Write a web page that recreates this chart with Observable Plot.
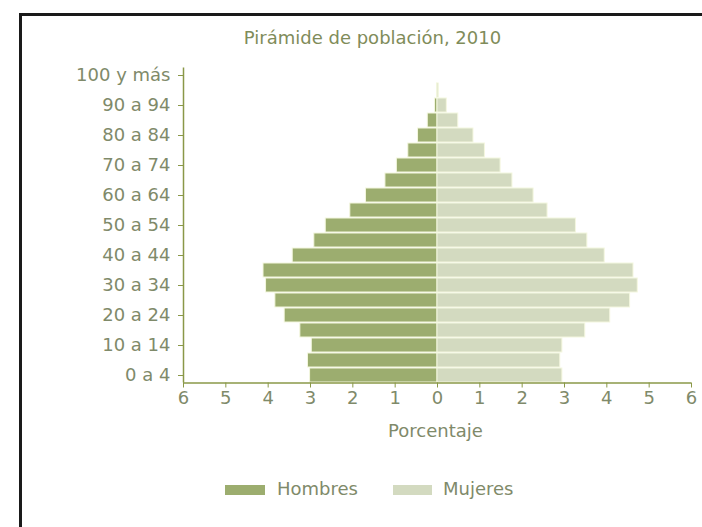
<!DOCTYPE html>
<html><head><meta charset="utf-8">
<script src="https://cdn.jsdelivr.net/npm/d3@7"></script>
<script src="https://cdn.jsdelivr.net/npm/@observablehq/plot@0.6"></script>
<style>
body{margin:0;background:#fff;font-family:"DejaVu Sans",sans-serif;}
#wrap{position:relative;width:702px;height:527px;overflow:hidden;background:#fff;}
#frame{position:absolute;left:19px;top:13px;width:800px;height:600px;border-top:3px solid #1a1a1a;border-left:3px solid #1a1a1a;}
#title{position:absolute;left:0;width:745px;top:27px;text-align:center;font-size:18px;line-height:22px;color:#7f8c5a;}
#chart{position:absolute;left:0;top:0;}
#xlabel{position:absolute;left:0;width:871px;top:420px;text-align:center;font-size:18px;line-height:22px;color:#7f8a6a;}
.sw{position:absolute;height:10px;}
.lt{position:absolute;font-size:18px;line-height:22px;color:#7f8a6a;}
</style>
</head><body>
<div id="wrap">
  <div id="frame"></div>
  <div id="title"></div>
  <div id="chart"></div>
  <div id="xlabel"></div>
  <div id="legend"></div>
</div>
<script>
const title = "Pirámide de población, 2010";
const xLabel = "Porcentaje";
const ageGroups = ["0 a 4","5 a 9","10 a 14","15 a 19","20 a 24","25 a 29","30 a 34","35 a 39","40 a 44","45 a 49","50 a 54","55 a 59","60 a 64","65 a 69","70 a 74","75 a 79","80 a 84","85 a 89","90 a 94","95 a 99","100 y más"];
const hombres = [3.01,3.06,2.97,3.24,3.61,3.83,4.05,4.11,3.42,2.91,2.64,2.06,1.69,1.23,0.96,0.69,0.46,0.23,0.06,0.01,0];
const mujeres = [2.95,2.90,2.95,3.49,4.08,4.55,4.73,4.63,3.95,3.54,3.27,2.60,2.27,1.77,1.49,1.12,0.85,0.49,0.22,0.03,0];
const series = ["Hombres","Mujeres"];
const seriesColors = ["#9cad6f","#d3dac0"];
const xTicks = [-6,-5,-4,-3,-2,-1,0,1,2,3,4,5,6];
const yTickLabels = ["0 a 4","10 a 14","20 a 24","30 a 34","40 a 44","50 a 54","60 a 64","70 a 74","80 a 84","90 a 94","100 y más"];

const axisColor = "#8a9848";
const textColor = "#7f8a6a";

document.getElementById("title").textContent = title;
document.getElementById("xlabel").textContent = xLabel;

const rows = [];
ageGroups.forEach((g, i) => {
  rows.push({grupo: g, sexo: series[0], valor: -hombres[i]});
  rows.push({grupo: g, sexo: series[1], valor: mujeres[i]});
});

const chart = Plot.plot({
  width: 702, height: 440,
  marginLeft: 183, marginRight: 11, marginTop: 67.5, marginBottom: 57.5,
  style: {fontFamily: "DejaVu Sans", fontSize: "18px", color: textColor, background: "transparent"},
  x: {domain: [-6, 6]},
  y: {domain: [...ageGroups].reverse(), paddingInner: 0.1, paddingOuter: 0.05},
  color: {domain: series, range: seriesColors},
  marks: [
    Plot.barX(rows, {x: "valor", y: "grupo", fill: "sexo", stroke: "#f4f7df", strokeWidth: 1}),
    Plot.ruleX([-6], {stroke: axisColor, strokeWidth: 1.5}),
    Plot.ruleY([ageGroups[0]], {stroke: axisColor, strokeWidth: 1.5, dy: 7.5}),
    Plot.axisX({ticks: xTicks, tickFormat: d => Math.abs(d), tickSize: 5, tickPadding: 3, stroke: axisColor, fill: textColor, fontSize: 18, label: null}),
    Plot.axisY({ticks: yTickLabels, tickSize: 5, tickPadding: 8, stroke: axisColor, fill: textColor, fontSize: 18, label: null})
  ]
});
document.getElementById("chart").appendChild(chart);

const legend = document.getElementById("legend");
const legendPos = [{sw: 225, swW: 40, tx: 277}, {sw: 393, swW: 39, tx: 443}];
series.forEach((s, i) => {
  const sw = document.createElement("div");
  sw.className = "sw";
  sw.style.left = legendPos[i].sw + "px";
  sw.style.top = "485px";
  sw.style.width = legendPos[i].swW + "px";
  sw.style.background = seriesColors[i];
  legend.appendChild(sw);
  const t = document.createElement("div");
  t.className = "lt";
  t.style.left = legendPos[i].tx + "px";
  t.style.top = "478px";
  t.textContent = s;
  legend.appendChild(t);
});
</script>
</body></html>
